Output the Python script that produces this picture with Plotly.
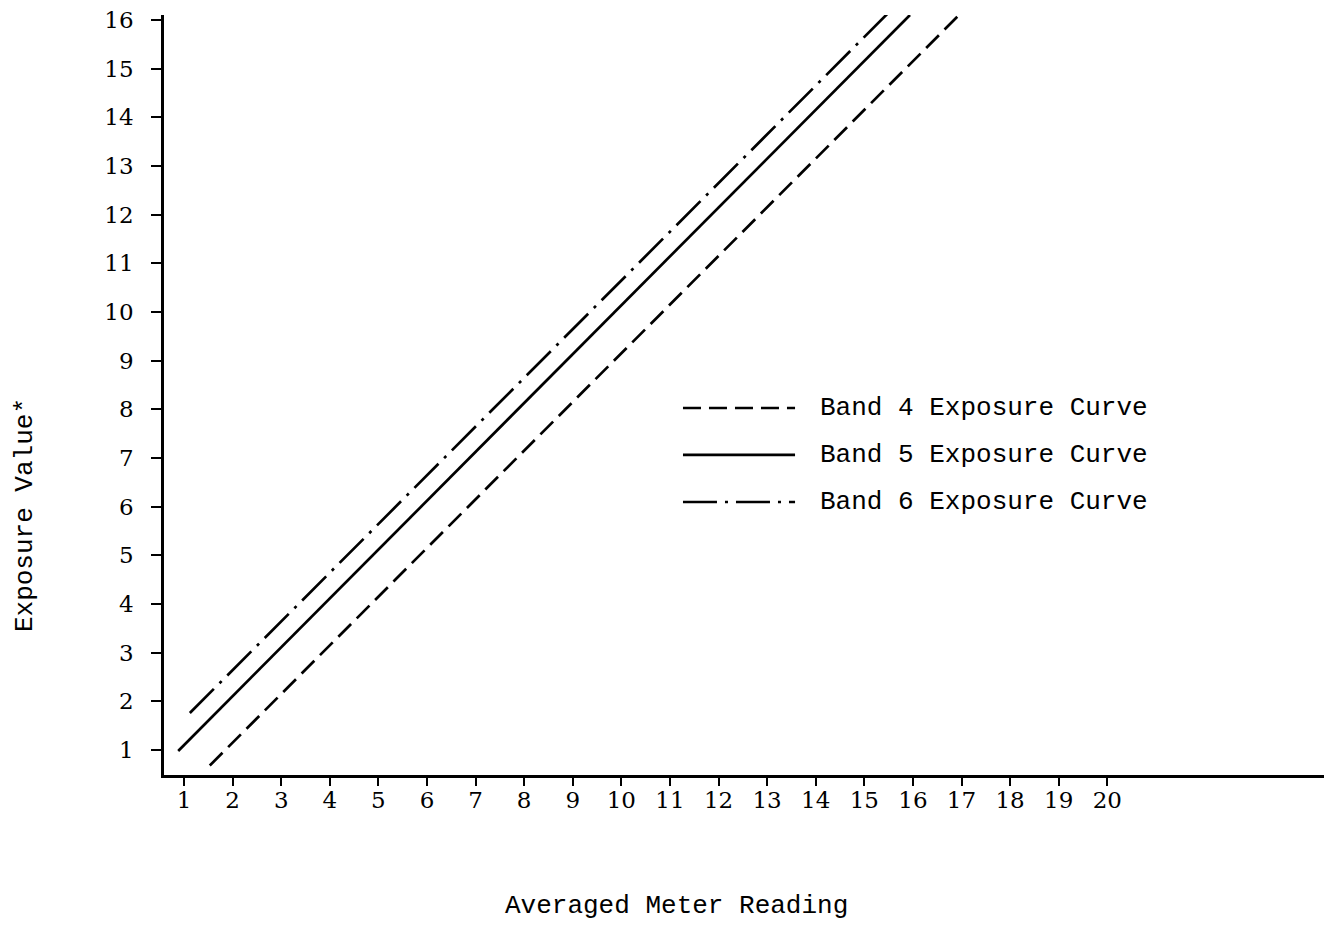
import plotly.graph_objects as go

# Data
band4_x = [1.53, 16.93]
band4_y = [0.68, 16.08]
band5_x = [0.88, 15.94]
band5_y = [0.98, 16.10]
band6_x = [1.12, 15.49]
band6_y = [1.76, 16.14]

x_ticks = list(range(1, 21))
y_ticks = list(range(1, 17))
legend_labels = ["Band 4 Exposure Curve", "Band 5 Exposure Curve", "Band 6 Exposure Curve"]
dashes = ["18px,8px", "solid", "34px,8px,3px,8px"]

FONT = "Liberation Mono"
TICKFONT = "DejaVu Serif"

fig = go.Figure()
for xs, ys, name, d in zip([band4_x, band5_x, band6_x], [band4_y, band5_y, band6_y], legend_labels, dashes):
    fig.add_trace(go.Scatter(x=xs, y=ys, mode="lines", name=name,
                             line=dict(color="black", width=2.7, dash=d),
                             showlegend=False))

# Manual legend (long sample lines like the reference)
leg_y = [0.4829, 0.4211, 0.3592]
for yy, name, d in zip(leg_y, legend_labels, dashes):
    fig.add_shape(type="line", xref="paper", yref="paper", x0=0.4474, x1=0.544, y0=yy, y1=yy,
                  line=dict(color="black", width=2.7, dash=d))
    fig.add_annotation(xref="paper", yref="paper", x=0.5638, y=yy, text=name, showarrow=False,
                       xanchor="left", yanchor="middle", font=dict(family=FONT, size=26, color="black"))

fig.add_annotation(xref="paper", yref="paper", x=0.4414, y=-0.1945, text="Averaged Meter Reading",
                   showarrow=False, xanchor="center", yanchor="bottom",
                   font=dict(family=FONT, size=26, color="black"))
fig.add_annotation(xref="paper", yref="paper", x=-0.1345, y=0.342, text="Exposure Value*",
                   showarrow=False, textangle=-90, xanchor="left", yanchor="middle",
                   font=dict(family=FONT, size=26, color="black"))

fig.update_layout(
    width=1316, height=915, autosize=False,
    margin=dict(l=156, r=0, t=7, b=148),
    plot_bgcolor="white", paper_bgcolor="white",
    font=dict(family=FONT, size=22, color="black"),
    xaxis=dict(range=[0.588, 24.46], tickmode="array", tickvals=x_ticks,
               ticktext=[str(v) for v in x_ticks], showgrid=False, zeroline=False,
               showline=True, linecolor="black", linewidth=2.7,
               ticks="outside", ticklen=8, tickwidth=2, tickcolor="black",
               ticklabelstandoff=-5, tickfont=dict(family=TICKFONT, size=23)),
    yaxis=dict(range=[0.486, 16.10], tickmode="array", tickvals=y_ticks,
               ticktext=[str(v) for v in y_ticks], showgrid=False, zeroline=False,
               showline=True, linecolor="black", linewidth=2.7,
               ticks="outside", ticklen=10, tickwidth=2, tickcolor="black",
               ticklabelstandoff=13, ticklabeloverflow="allow",
               tickfont=dict(family=TICKFONT, size=23)),
)

fig.write_html("out.html")
